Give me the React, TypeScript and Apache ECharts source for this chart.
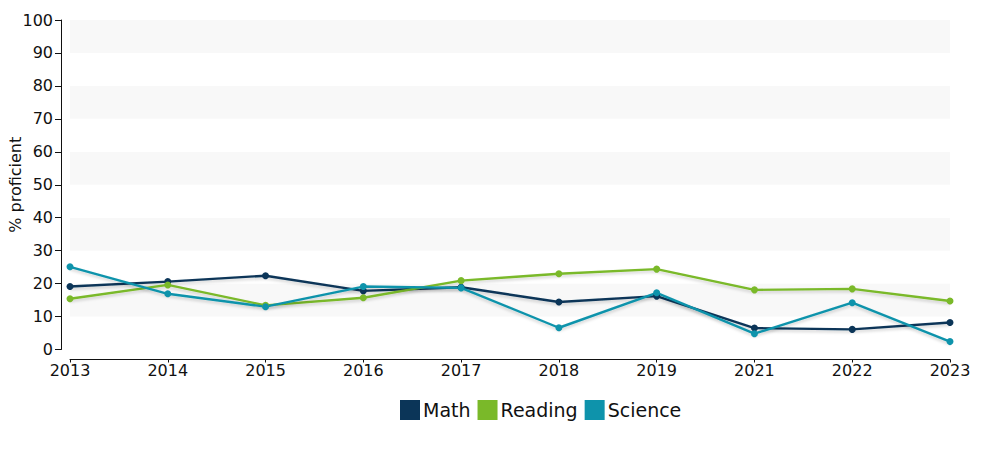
import React, { useEffect, useRef } from "react";
import * as echarts from "echarts";

const years = ["2013", "2014", "2015", "2016", "2017", "2018", "2019", "2021", "2022", "2023"];
const math = [19.1, 20.6, 22.4, 17.8, 18.9, 14.4, 16.2, 6.5, 6.1, 8.2];
const reading = [15.4, 19.6, 13.4, 15.7, 20.9, 23.0, 24.4, 18.1, 18.4, 14.7];
const science = [25.1, 16.9, 13.0, 19.1, 18.7, 6.6, 17.2, 4.8, 14.2, 2.4];

const FONT = "DejaVu Sans";

export default function App() {
  const ref = useRef<HTMLDivElement>(null);
  useEffect(() => {
    document.body.style.margin = "0";
    const chart = echarts.init(ref.current!, null, { renderer: "svg" });
    const mk = (name: string, data: number[], color: string) => ({
      name,
      type: "line",
      data,
      symbol: "circle",
      symbolSize: 7,
      itemStyle: { color },
      lineStyle: {
        color,
        width: 2.4,
        shadowColor: "rgba(0,0,0,0.18)",
        shadowBlur: 3,
        shadowOffsetY: 2,
      },
    });
    chart.setOption({
      animation: false,
      textStyle: { fontFamily: FONT },
      grid: { left: 70, right: 50, top: 20, bottom: 100.5, containLabel: false, outerBoundsMode: "none" },
      legend: {
        left: 395,
        top: 395,
        itemWidth: 20,
        itemHeight: 20,
        itemGap: 7,
        icon: "rect",
        textStyle: { fontFamily: FONT, fontSize: 19, color: "#111", padding: [0, 0, 0, -2] },
        data: ["Math", "Reading", "Science"],
      },
      xAxis: {
        type: "category",
        data: years,
        boundaryGap: false,
        offset: 10,
        axisLine: { onZero: false, lineStyle: { color: "#111", width: 1 } },
        axisTick: { alignWithLabel: true, length: 3, lineStyle: { color: "#111" } },
        axisLabel: { fontFamily: FONT, fontSize: 16, color: "#111", margin: 3 },
        splitLine: { show: false },
      },
      yAxis: {
        type: "value",
        min: 0,
        max: 100,
        interval: 10,
        offset: 9,
        name: "% proficient",
        nameLocation: "middle",
        nameGap: 38,
        nameMoveOverlap: false,
        nameTextStyle: { fontFamily: FONT, fontSize: 16, color: "#111" },
        axisLine: { show: true, lineStyle: { color: "#111", width: 1 } },
        axisTick: { show: true, length: 6, lineStyle: { color: "#111" } },
        axisLabel: { fontFamily: FONT, fontSize: 16, color: "#111", margin: 8 },
        splitLine: { show: false },
        splitArea: { show: true, areaStyle: { color: ["#ffffff", "#f8f8f8"] } },
      },
      series: [
        mk("Math", math, "#0b3558"),
        mk("Reading", reading, "#7ab929"),
        mk("Science", science, "#0e93ab"),
      ],
    });
    return () => chart.dispose();
  }, []);
  return <div ref={ref} style={{ width: 1000, height: 450 }} />;
}
